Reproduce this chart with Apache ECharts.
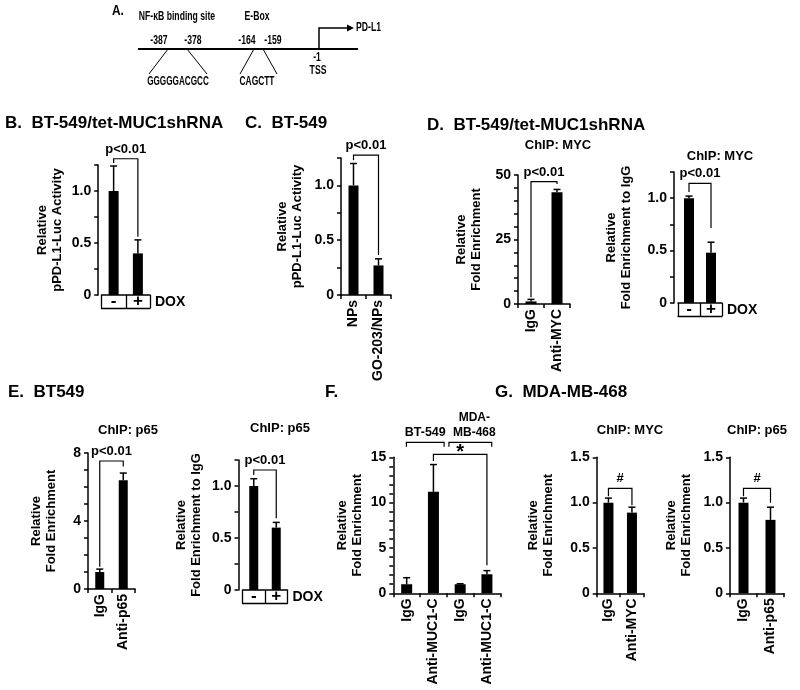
<!DOCTYPE html>
<html><head><meta charset="utf-8">
<script src="https://cdn.jsdelivr.net/npm/echarts@6/dist/echarts.min.js"></script>
<style>html,body{margin:0;padding:0;background:#fff}#c{width:800px;height:690px}</style>
</head><body><div id="c"></div><script>
// ---------- data ----------
const lucTicks = ['0', '0.5', '1.0'];
const d1Ticks = ['0', '25', '50'];
const e1Ticks = ['0', '4', '8'];
const fTicks = ['0', '5', '10', '15'];
const gTicks = ['0', '0.5', '1.0', '1.5'];

const bCats = ['-', '+'];
const bVals = [1.0, 0.40];
const bErr = [0.24, 0.13];

const cCats = ['NPs', 'GO-203/NPs'];
const cVals = [1.0, 0.27];
const cErr = [0.20, 0.06];

const d1Cats = ['IgG', 'Anti-MYC'];
const d1Vals = [1.0, 43.3];
const d1Err = [0.8, 1.1];

const d2Cats = ['-', '+'];
const d2Vals = [1.0, 0.48];
const d2Err = [0.02, 0.10];

const e1Cats = ['IgG', 'Anti-p65'];
const e1Vals = [1.0, 6.4];
const e1Err = [0.17, 0.42];

const e2Cats = ['-', '+'];
const e2Vals = [1.0, 0.60];
const e2Err = [0.07, 0.05];

const fCats = ['IgG', 'Anti-MUC1-C', 'IgG', 'Anti-MUC1-C'];
const fVals = [1.0, 11.2, 1.0, 2.1];
const fErr = [0.72, 3.0, 0.05, 0.4];

const g1Cats = ['IgG', 'Anti-MYC'];
const g1Vals = [1.0, 0.89];
const g1Err = [0.05, 0.06];

const g2Cats = ['IgG', 'Anti-p65'];
const g2Vals = [1.0, 0.81];
const g2Err = [0.05, 0.14];

// promoter schematic labels
const siteTitles = ['NF-\u03baB binding site', 'E-Box'];
const sitePositions = ['-387', '-378', '-164', '-159'];
const siteSeqs = ['GGGGGACGCC', 'CAGCTT'];

// ---------- style ----------
const FONT = "'Liberation Sans', Arial, Helvetica, sans-serif";
const BLACK = '#000';

const panels = [
  {left: 101.5, top: 165, width: 48.5, height: 130, yOffset: 3.3, max: 1.25, interval: 0.25, ticks: lucTicks,
   name: 'Relative\npPD-L1-Luc Activity', nameGap: 33, cats: bCats, vals: bVals, err: bErr, box: true, barWidth: 10,
   brackets: [[0, 1, 0, 0, 1.31, 1.27, 0.56]], labels: ['p<0.01']},
  {left: 341, top: 158, width: 50, height: 137, max: 1.25, interval: 0.25, ticks: lucTicks,
   name: 'Relative\npPD-L1-Luc Activity', nameGap: 36, cats: cCats, vals: cVals, err: cErr, barWidth: 10,
   brackets: [[0, 1, 0, 0, 1.277, 1.23, 0.365]], labels: ['p<0.01']},
  {left: 518, top: 175, width: 52, height: 129, max: 50, interval: 5, ticks: d1Ticks,
   name: 'Relative\nFold Enrichment', nameGap: 34, cats: d1Cats, vals: d1Vals, err: d1Err, barWidth: 11,
   brackets: [[0, 1, 0, 0, 47.4, 2.6, 46.5]], labels: ['p<0.01']},
  {left: 678, top: 172, width: 44, height: 131, yOffset: 4, max: 1.25, interval: 0.25, ticks: lucTicks,
   name: 'Relative\nFold Enrichment to IgG', nameGap: 40, cats: d2Cats, vals: d2Vals, err: d2Err, box: true, barWidth: 10,
   brackets: [[0, 1, 0, 0, 1.142, 1.06, 0.716]], labels: ['p<0.01']},
  {left: 88, top: 453, width: 47, height: 136, max: 8, interval: 1, ticks: e1Ticks,
   name: 'Relative\nFold Enrichment', nameGap: 29, cats: e1Cats, vals: e1Vals, err: e1Err, barWidth: 9,
   brackets: [[0, 1, 0, 0, 7.53, 1.31, 7.2]], labels: ['p<0.01']},
  {left: 242.5, top: 460, width: 45, height: 130, yOffset: 4, max: 1.25, interval: 0.25, ticks: lucTicks,
   name: 'Relative\nFold Enrichment to IgG', nameGap: 35, cats: e2Cats, vals: e2Vals, err: e2Err, box: true, barWidth: 9,
   brackets: [[0, 1, 0, 0, 1.154, 1.105, 0.69]], labels: ['p<0.01']},
  {left: 393.3, top: 457.3, width: 107, height: 136, max: 15, interval: 1, ticks: fTicks,
   name: 'Relative\nFold Enrichment', nameGap: 28, cats: fCats, vals: fVals, err: fErr, barWidth: 11,
   brackets: [[0, 1, -0.01, 0.4, 16.65, 16.16, 16.16], [2, 3, -0.42, 0.18, 16.65, 16.16, 16.16], [1, 3, 0, 0, 15.33, 14.6, 3.1]],
   labels: ['BT-549', 'MDA-\nMB-468', '*'], labelSize: [12.5, 12, 20], labelDx: [0, 4, 0]},
  {left: 596.7, top: 457.3, width: 47, height: 136, max: 1.5, interval: 0.5, ticks: gTicks,
   name: 'Relative\nFold Enrichment', nameGap: 41, cats: g1Cats, vals: g1Vals, err: g1Err, barWidth: 10,
   brackets: [[0, 1, 0, 0, 1.158, 1.07, 0.97]], labels: ['#']},
  {left: 730, top: 457.3, width: 54, height: 136, max: 1.5, interval: 0.5, ticks: gTicks,
   name: 'Relative\nFold Enrichment', nameGap: 36, cats: g2Cats, vals: g2Vals, err: g2Err, barWidth: 10,
   brackets: [[0, 1, 0, 0, 1.158, 1.07, 1.0]], labels: ['#']}
];

function tickFmt(list) {
  return function (v) {
    const s = list.find(t => Math.abs(parseFloat(t) - v) < 1e-6);
    return s === undefined ? '' : s;
  };
}

function errRender(params, api) {
  const i = api.value(0), v = api.value(1), e = api.value(2);
  const p0 = api.coord([i, v]);
  const p1 = api.coord([i, v + e]);
  const hw = 3.5;
  const st = {stroke: BLACK, lineWidth: 1.5};
  return {type: 'group', children: [
    {type: 'line', shape: {x1: p0[0], y1: p0[1], x2: p1[0], y2: p1[1]}, style: st},
    {type: 'line', shape: {x1: p1[0] - hw, y1: p1[1], x2: p1[0] + hw, y2: p1[1]}, style: st}
  ]};
}

function makeBracketRender(p) {
  return function (params, api) {
    const i1 = api.value(0), i2 = api.value(1), f1 = api.value(2), f2 = api.value(3);
    const yt = api.value(4), yl = api.value(5), yr = api.value(6);
    const c0 = api.coord([0, 0])[0], c1 = api.coord([1, 0])[0];
    const band = c1 - c0;
    const xa = api.coord([i1, yt])[0] + f1 * band;
    const xb = api.coord([i2, yt])[0] + f2 * band;
    const pyT = api.coord([i1, yt])[1];
    const pyL = api.coord([i1, yl])[1];
    const pyR = api.coord([i1, yr])[1];
    const k = params.dataIndex;
    const lab = p.labels[k];
    const isStar = lab === '*';
    const size = p.labelSize ? p.labelSize[k] : 13;
    const dx = p.labelDx ? p.labelDx[k] : 0;
    return {type: 'group', children: [
      {type: 'polyline', shape: {points: [[xa, pyL], [xa, pyT], [xb, pyT], [xb, pyR]]},
       style: {stroke: BLACK, lineWidth: 1.2, fill: null}},
      {type: 'text', x: (xa + xb) / 2 + dx, y: isStar ? pyT + 8 : pyT - 2,
       style: {text: lab, fill: BLACK, fontSize: size, fontWeight: 'bold', fontFamily: FONT,
               align: 'center', verticalAlign: 'bottom', lineHeight: isStar ? 20 : 15}}
    ]};
  };
}

const grids = [], xAxes = [], yAxes = [], series = [];
panels.forEach((p, k) => {
  grids.push({left: p.left, top: p.top, width: p.width, height: p.height, containLabel: false});
  const xi = xAxes.length;
  xAxes.push({
    gridIndex: k, type: 'category', data: p.cats, position: 'bottom',
    axisLine: {show: true, onZero: false, lineStyle: {color: BLACK, width: 1.5}},
    axisTick: {show: true, length: p.box ? 13 : 4, lineStyle: {color: BLACK, width: p.box ? 1.3 : 1.5}},
    axisLabel: p.box
      ? {margin: 0, fontSize: 17, fontWeight: 'bold', color: BLACK, fontFamily: FONT, lineHeight: 13, verticalAlign: 'top'}
      : {rotate: 90, margin: 5, fontSize: 14, fontWeight: 'bold', color: BLACK, fontFamily: FONT},
    name: p.box ? 'DOX' : '', nameLocation: 'end', nameGap: 5,
    nameTextStyle: {fontSize: 14, fontWeight: 'bold', color: BLACK, fontFamily: FONT, verticalAlign: 'top', lineHeight: 15}
  });
  if (p.box) {
    xAxes.push({
      gridIndex: k, type: 'category', data: p.cats, position: 'bottom', offset: 13,
      axisLine: {show: true, onZero: false, lineStyle: {color: BLACK, width: 1.3}},
      axisTick: {show: false}, axisLabel: {show: false}
    });
  }
  const yi = yAxes.length;
  yAxes.push({
    gridIndex: k, type: 'value', min: 0, max: p.max, interval: p.interval, offset: p.yOffset || 0,
    axisLine: {show: true, lineStyle: {color: BLACK, width: 1.5}},
    axisTick: {show: true, length: 4, lineStyle: {color: BLACK, width: 1.5}},
    splitLine: {show: false},
    axisLabel: {margin: 7, fontSize: 14, fontWeight: 'bold', color: BLACK, fontFamily: FONT, formatter: tickFmt(p.ticks)},
    name: p.name, nameLocation: 'middle', nameRotate: 90, nameGap: p.nameGap,
    nameTextStyle: {fontSize: 13, fontWeight: 'bold', color: BLACK, fontFamily: FONT, lineHeight: 15}
  });
  series.push({type: 'bar', xAxisIndex: xi, yAxisIndex: yi, data: p.vals, barWidth: p.barWidth,
    itemStyle: {color: BLACK}, silent: true});
  series.push({type: 'custom', xAxisIndex: xi, yAxisIndex: yi, renderItem: errRender, z: 3, silent: true,
    encode: {x: 0, y: 1},
    data: p.vals.map((v, i) => [i, v, p.err[i]])});
  series.push({type: 'custom', xAxisIndex: xi, yAxisIndex: yi, renderItem: makeBracketRender(p), z: 4, silent: true,
    encode: {x: 0, y: 4}, clip: false,
    data: p.brackets});
});

// ---------- free text & schematic ----------
function txt(text, x, y, size, align, sx) {
  return {type: 'text', x: x, y: y, silent: true, scaleX: sx || 1,
    style: {text: text, fill: BLACK, fontSize: size, fontWeight: 'bold', fontFamily: FONT,
            align: align || 'left', verticalAlign: 'middle'}};
}
function seg(x1, y1, x2, y2, w) {
  return {type: 'line', silent: true, shape: {x1, y1, x2, y2}, style: {stroke: BLACK, lineWidth: w || 1}};
}
const NS = 0.72; // condensed look of the schematic lettering

const graphics = [
  // titles
  txt('B.  BT-549/tet-MUC1shRNA', 5, 123, 17),
  txt('C.  BT-549', 245, 123, 17),
  txt('D.  BT-549/tet-MUC1shRNA', 427, 125, 17),
  txt('E.  BT549', 8, 392, 17),
  txt('F.', 325, 392, 17),
  txt('G.  MDA-MB-468', 495, 392, 17),
  txt('ChIP: MYC', 558, 145, 13, 'center'),
  txt('ChIP: MYC', 720, 156, 13, 'center'),
  txt('ChIP: p65', 128, 430, 13, 'center'),
  txt('ChIP: p65', 280, 428, 13, 'center'),
  txt('ChIP: MYC', 630, 430, 13, 'center'),
  txt('ChIP: p65', 757, 430, 13, 'center'),
  // panel A
  txt('A.', 112, 11, 14, 'left', 0.85),
  txt(siteTitles[0], 177, 17, 12, 'center', NS),
  txt(siteTitles[1], 257, 17, 12, 'center', NS),
  txt(sitePositions[0], 159, 41, 12, 'center', NS),
  txt(sitePositions[1], 193, 41, 12, 'center', NS),
  txt(sitePositions[2], 247, 41, 12, 'center', NS),
  txt(sitePositions[3], 273, 41, 12, 'center', NS),
  seg(138, 49, 358, 49, 2),
  {type: 'polyline', silent: true, shape: {points: [[319, 49], [319, 28], [349, 28]]}, style: {stroke: BLACK, lineWidth: 1.5, fill: null}},
  {type: 'polygon', silent: true, shape: {points: [[347, 24.5], [354, 28], [347, 31.5]]}, style: {fill: BLACK}},
  txt('PD-L1', 356, 28, 12, 'left', NS),
  txt('-1', 317, 58, 12, 'center', NS),
  txt('TSS', 318, 71, 12, 'center', NS),
  seg(168, 49, 149, 74), seg(187, 49, 207, 74),
  seg(254, 49, 240, 74), seg(263, 49, 277, 74),
  txt(siteSeqs[0], 178, 82, 12, 'center', 0.68),
  txt(siteSeqs[1], 257, 82, 12, 'center', 0.7)
];

const chart = echarts.init(document.getElementById('c'), null, {renderer: 'canvas'});
chart.setOption({
  animation: false,
  backgroundColor: '#fff',
  grid: grids, xAxis: xAxes, yAxis: yAxes, series: series,
  graphic: graphics
});
</script></body></html>
